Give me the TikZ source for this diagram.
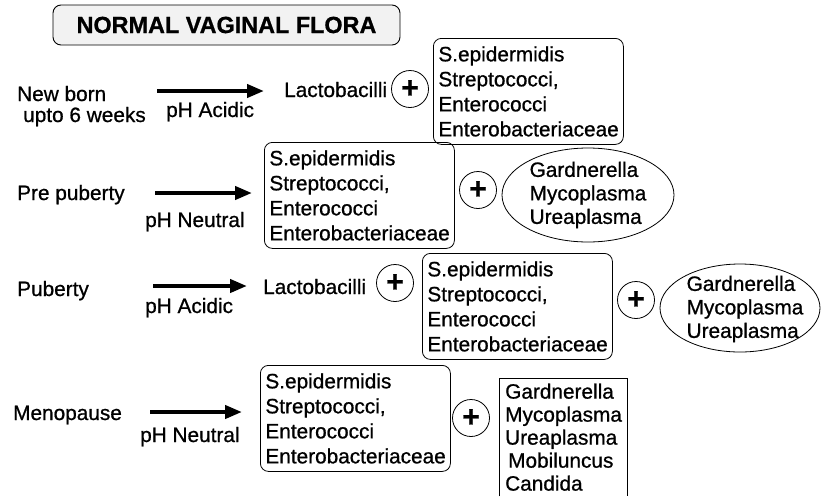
\documentclass[tikz,border=0pt]{standalone}
\usepackage{fontspec}
\setmainfont[FakeBold=0.8]{Liberation Sans}
\usetikzlibrary{arrows.meta, positioning}
\definecolor{floraInk}{RGB}{0,0,0}
\definecolor{floraTitle}{RGB}{242,242,242}

\begin{document}
\begin{tikzpicture}[x=1pt, y=-1pt,
    title/.style={draw=floraInk, rounded corners=8pt, fill=floraTitle, minimum width=347pt, minimum height=40pt, line width=0.9pt, font=\fontsize{23.4}{26}\selectfont\bfseries},
    stage/.style={anchor=base west, inner sep=0pt, align=left, font=\fontsize{20.8}{21}\selectfont},
    bugs/.style={draw=floraInk, rounded corners=8pt, anchor=north west, align=left, text width=180pt, minimum height=106pt, inner xsep=5pt, inner ysep=0pt, line width=0.8pt, font=\fontsize{20.8}{25}\selectfont},
    oval/.style={align=left, inner sep=0pt, font=\fontsize{20.8}{23.5}\selectfont},
    plus/.style={draw=floraInk, circle, minimum size=37pt, inner sep=0pt, line width=0.8pt, font=\fontsize{30}{30}\selectfont\bfseries},
    arrow/.style={-{Triangle[length=17pt, width=13pt]}, line width=4pt, draw=floraInk}
]
    \useasboundingbox (0,0) rectangle (822,496);

    \node[title] (head) at (226.5,25) {NORMAL VAGINAL FLORA};

    % new born
    \node[stage] (newborn) at (17,122) {New born\\\hspace*{6pt}upto 6 weeks};
    \coordinate (a1s) at (157,91);
    \coordinate (a1e) at (264,91);
    \node[stage] (ph1) at (166,117) {pH Acidic};
    \node[stage] (lacto1) at (284,97) {Lactobacilli};
    \node[plus] (p1) at (410,89) {+};
    \node[bugs] (mix1) at (433,38) {S.epidermidis\\Streptococci,\\Enterococci\\Enterobacteriaceae};

    % pre puberty
    \node[stage] (prepub) at (17,200) {Pre puberty};
    \coordinate (a2s) at (155,193);
    \coordinate (a2e) at (252,193);
    \node[stage] (ph2) at (145,227) {pH Neutral};
    \node[bugs] (mix2) at (264,142) {S.epidermidis\\Streptococci,\\Enterococci\\Enterobacteriaceae};
    \node[plus] (p2) at (478,190) {+};
    \node[oval] (gmu2) at (588,195) {Gardnerella\\Mycoplasma\\Ureaplasma};
    \draw[line width=0.8pt] (gmu2.center) ellipse [x radius=86, y radius=47];

    % puberty
    \node[stage] (pub) at (17,296) {Puberty};
    \coordinate (a3s) at (153,286);
    \coordinate (a3e) at (247,286);
    \node[stage] (ph3) at (145,313) {pH Acidic};
    \node[stage] (lacto3) at (263,294) {Lactobacilli};
    \node[plus] (p3) at (395,283) {+};
    \node[bugs] (mix3) at (422,253) {S.epidermidis\\Streptococci,\\Enterococci\\Enterobacteriaceae};
    \node[plus] (p4) at (636,300) {+};
    \node[oval] (gmu3) at (745,309) {Gardnerella\\Mycoplasma\\Ureaplasma};
    \draw[line width=0.8pt] (740,308) ellipse [x radius=80, y radius=44];

    % menopause
    \node[stage] (meno) at (13,420) {Menopause};
    \coordinate (a4s) at (150,412);
    \coordinate (a4e) at (242,412);
    \node[stage] (ph4) at (140,442) {pH Neutral};
    \node[bugs] (mix4) at (260,365) {S.epidermidis\\Streptococci,\\Enterococci\\Enterobacteriaceae};
    \node[plus] (p5) at (471,418) {+};
    \node[anchor=north west, align=left, text width=116pt, inner xsep=6pt, inner ysep=1pt, minimum height=118pt, font=\fontsize{20.8}{23}\selectfont] (gmu4) at (499,378) {Gardnerella\\Mycoplasma\\Ureaplasma\\\hspace*{3pt}Mobiluncus\\Candida};
    \draw[line width=0.8pt] (gmu4.south west) |- (gmu4.north east) -- (gmu4.south east);

    \draw[arrow] (a1s) -- (a1e);
    \draw[arrow] (a2s) -- (a2e);
    \draw[arrow] (a3s) -- (a3e);
    \draw[arrow] (a4s) -- (a4e);
\end{tikzpicture}
\end{document}
